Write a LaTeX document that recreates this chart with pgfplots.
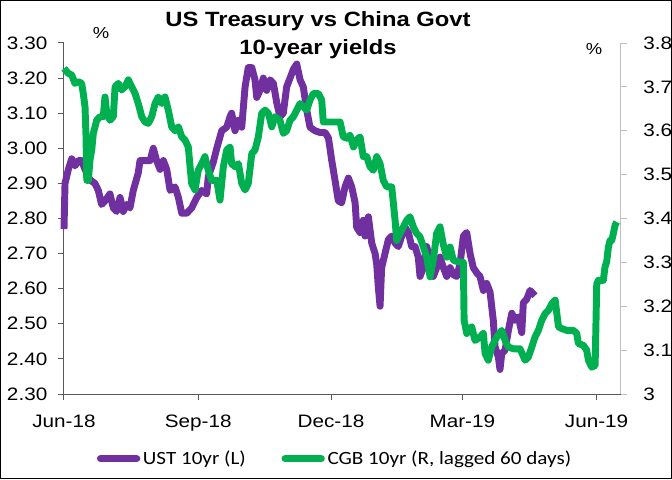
\documentclass[border=0pt]{standalone}
\usepackage{pgfplots}
\pgfplotsset{compat=1.18}
\usepackage{fontspec}
\setmainfont[FakeStretch=1.15]{Liberation Sans}
\newfontfamily\legendfont[FakeStretch=1.13]{Carlito}

\definecolor{ustpurple}{HTML}{7030A0}
\definecolor{cgbgreen}{HTML}{00B050}
\definecolor{axisdark}{HTML}{595959}
\definecolor{axislight}{HTML}{BFBFBF}

% x = days since 1 Jun 2018
\pgfplotstableread{
x y
0 2.77
0.7 2.90
3 2.94
5.3 2.97
7.5 2.95
9.8 2.965
12.1 2.965
14.4 2.94
17.8 2.91
21.2 2.90
23.5 2.88
25.8 2.84
28.1 2.85
31.5 2.87
33.8 2.83
36.1 2.82
38.4 2.86
40.6 2.82
43 2.84
45.2 2.83
47.5 2.88
50.9 2.93
52.1 2.965
55.5 2.965
59 2.965
61.2 3.00
63.5 2.965
65.8 2.94
68.1 2.965
70.4 2.94
72.7 2.88
76.1 2.89
78.4 2.86
80.7 2.815
84.1 2.815
87.5 2.83
89.8 2.85
91 2.86
94.4 2.88
97.8 2.87
98.9 2.92
102.3 2.96
104.7 3.00
108.1 3.05
111.5 3.06
113.8 3.09
114.9 3.10
117.2 3.05
119.5 3.08
121.8 3.06
124.1 3.175
126.3 3.23
128.7 3.23
130.9 3.195
132.1 3.145
134.3 3.165
136.6 3.20
138.9 3.165
141.2 3.195
143.5 3.185
145.8 3.13
148 3.09
150.3 3.10
152.6 3.175
154.9 3.20
157.2 3.225
159.5 3.24
161.8 3.195
164 3.175
166.3 3.11
168.6 3.06
172 3.05
175.5 3.045
178.9 3.045
181.2 3.03
182.3 3.00
183.5 2.965
185.7 2.91
188 2.85
190.3 2.845
192.6 2.89
194.9 2.915
197.2 2.89
199.5 2.845
200.6 2.775
202.9 2.76
205.1 2.795
206.3 2.75
208.6 2.805
210.9 2.73
213.2 2.70
214.3 2.67
215.4 2.605
216.6 2.55
217.7 2.66
220 2.70
222.3 2.74
224.6 2.75
226.9 2.73
229.1 2.72
231.5 2.75
233.7 2.775
236 2.76
238.3 2.72
240.6 2.72
242.8 2.69
244 2.635
246.3 2.66
248.6 2.72
250.9 2.68
253.1 2.635
255.4 2.66
257.7 2.69
260 2.66
262.3 2.635
264.6 2.66
266.8 2.64
269.2 2.635
271.4 2.67
273.7 2.75
276 2.76
278.3 2.70
280.5 2.66
282.9 2.645
285.1 2.635
287.4 2.595
289.7 2.615
292 2.59
294.2 2.51
295.4 2.435
297.7 2.405
298.8 2.37
300 2.415
302.3 2.425
304.5 2.48
306.9 2.53
309.1 2.51
311.4 2.52
313.7 2.475
314.8 2.56
317.1 2.57
319.4 2.595
322.8 2.58
}\usttable

\pgfplotstableread{
x y
0 3.742
2.9 3.731
5.3 3.727
7.5 3.708
9.8 3.712
12.1 3.708
13.2 3.685
14.4 3.655
15.1 3.586
15.6 3.487
16.7 3.487
17.8 3.533
19 3.556
20.1 3.594
22.4 3.624
24.7 3.632
26.9 3.632
28.1 3.677
29.3 3.64
31.5 3.624
33.8 3.632
35 3.70
37.2 3.708
39.5 3.693
41.8 3.70
44.1 3.716
46.4 3.70
48.7 3.685
50.9 3.662
53.3 3.632
55.5 3.620
57.8 3.617
60.1 3.632
62.4 3.662
64.6 3.677
67 3.662
69.2 3.677
71.5 3.647
73.8 3.609
76.1 3.60
78.4 3.609
80.7 3.586
82.9 3.579
85.2 3.563
86.4 3.518
87.5 3.48
89.8 3.465
92 3.51
94.4 3.525
96.6 3.541
98.9 3.51
101.2 3.487
104.7 3.487
106.9 3.442
109.2 3.518
111.5 3.556
113.8 3.563
114.9 3.525
117.2 3.518
119.5 3.525
121.8 3.48
124.1 3.465
126.3 3.48
128.7 3.548
130.9 3.556
133.2 3.586
135.5 3.64
137.8 3.647
140 3.64
142.4 3.609
144.6 3.632
148 3.624
150.3 3.594
152.6 3.60
154.9 3.624
157.2 3.632
159.5 3.647
161.8 3.662
164 3.655
166.3 3.647
168.6 3.67
170.9 3.685
174.3 3.685
176.6 3.67
177.7 3.62
189.2 3.62
191.4 3.586
193.8 3.583
196 3.59
198.4 3.563
200.6 3.579
202.9 3.586
205.1 3.541
207.5 3.541
209.7 3.518
212 3.51
214.3 3.541
216.6 3.525
218.8 3.487
221.2 3.472
224.6 3.472
226.9 3.396
228 3.35
230.3 3.366
232.6 3.381
234.9 3.396
237.1 3.404
239.4 3.381
241.7 3.366
244 3.358
246.3 3.335
248.6 3.312
250.9 3.267
253.1 3.305
255.4 3.366
257.7 3.381
260 3.34
262.3 3.312
264.6 3.335
266.8 3.305
270.3 3.301
273.7 3.300
274.2 3.168
276 3.138
279.4 3.153
281.7 3.122
285.1 3.13
287.4 3.138
288.6 3.092
290.8 3.077
293.1 3.107
296.6 3.13
300 3.145
302.3 3.122
304.5 3.107
308 3.103
312.5 3.103
316 3.077
318.2 3.084
320.6 3.107
322.8 3.13
325.1 3.145
327.4 3.168
329.7 3.183
332 3.191
334.4 3.206
336.6 3.214
338.9 3.153
341.2 3.149
344.6 3.145
349.1 3.145
351.4 3.138
352.5 3.115
355.9 3.111
358.2 3.10
359.4 3.077
361.7 3.061
364 3.065
365.1 3.25
366.2 3.259
369.6 3.259
370.8 3.29
371.9 3.301
373.1 3.335
374.2 3.35
375.4 3.35
376.5 3.366
377.7 3.385
378.8 3.392
}\cgbtable

\pgfplotsset{
  yieldaxis/.style={
    scale only axis,
    width=417.5pt, height=263.25pt,
    xmin=0, xmax=381.5,
    clip=false,
    /pgf/number format/assume math mode=true,
    tick label style={font=\fontsize{13.5}{16}\selectfont, text=black},
  },
}

\begin{document}
\begin{tikzpicture}
\useasboundingbox (-48pt,-63.75pt) rectangle (456pt,295.5pt);

\begin{axis}[
    yieldaxis,
    axis x line*=bottom,
    axis y line*=left,
    tick align=outside,
    major tick length=4.5pt,
    axis line style={draw=axisdark, line width=0.75pt},
    tick style={draw=axisdark, line width=0.75pt},
    ymin=2.3, ymax=3.3,
    ytick={2.3,2.4,2.5,2.6,2.7,2.8,2.9,3.0,3.1,3.2,3.3},
    yticklabel style={xshift=-4.5pt,
        /pgf/number format/.cd, fixed, fixed zerofill, precision=2},
    xtick={0,92,183,273,365},
    xticklabels={Jun-18,Sep-18,Dec-18,Mar-19,Jun-19},
    xticklabel style={yshift=-7.5pt},
    legend columns=2,
    legend cell align=left,
    legend style={at={(0.0587,-0.1842)}, anchor=west, draw=none, fill=none,
        inner sep=0pt, font=\legendfont\fontsize{14}{17}\selectfont,
        nodes={inner sep=0pt},
        /tikz/every odd column/.append style={column sep=2pt},
        /tikz/every even column/.append style={column sep=26.8pt}},
    legend image code/.code={
        \draw[#1, line width=5.5pt, line cap=round] (2.75pt,0pt) -- (29.75pt,0pt);},
]
\addplot[ustpurple, line width=5.2pt, line join=round] table {\usttable};
\addlegendentry{UST 10yr (L)}
\addlegendimage{cgbgreen, line width=5.2pt}
\addlegendentry{CGB 10yr (R, lagged 60 days)}
\end{axis}

\begin{axis}[
    yieldaxis,
    axis x line=none,
    axis y line*=right,
    tick align=outside,
    major tick length=4.5pt,
    axis line style={draw=axislight, line width=0.75pt},
    tick style={draw=axislight, line width=0.75pt},
    ymin=3, ymax=3.8,
    ytick={3,3.1,3.2,3.3,3.4,3.5,3.6,3.7,3.8},
    yticklabel style={xshift=9pt},
]
\addplot[cgbgreen, line width=5.2pt, line join=round] table {\cgbtable};
\end{axis}

\node[anchor=base, font=\bfseries\fontsize{15.5}{19}\selectfont] at (190.5pt,275.7pt) {US Treasury vs China Govt};
\node[anchor=base, font=\bfseries\fontsize{15.5}{19}\selectfont] at (190.5pt,254.7pt) {10-year yields};
\node[font=\fontsize{12}{14}\selectfont] at (27.75pt,270.75pt) {\%};
\node[font=\fontsize{12}{14}\selectfont] at (397.5pt,258.75pt) {\%};

\draw[black, line width=1pt] (-47.5pt,-63.25pt) rectangle (455.5pt,295pt);
\end{tikzpicture}
\end{document}
